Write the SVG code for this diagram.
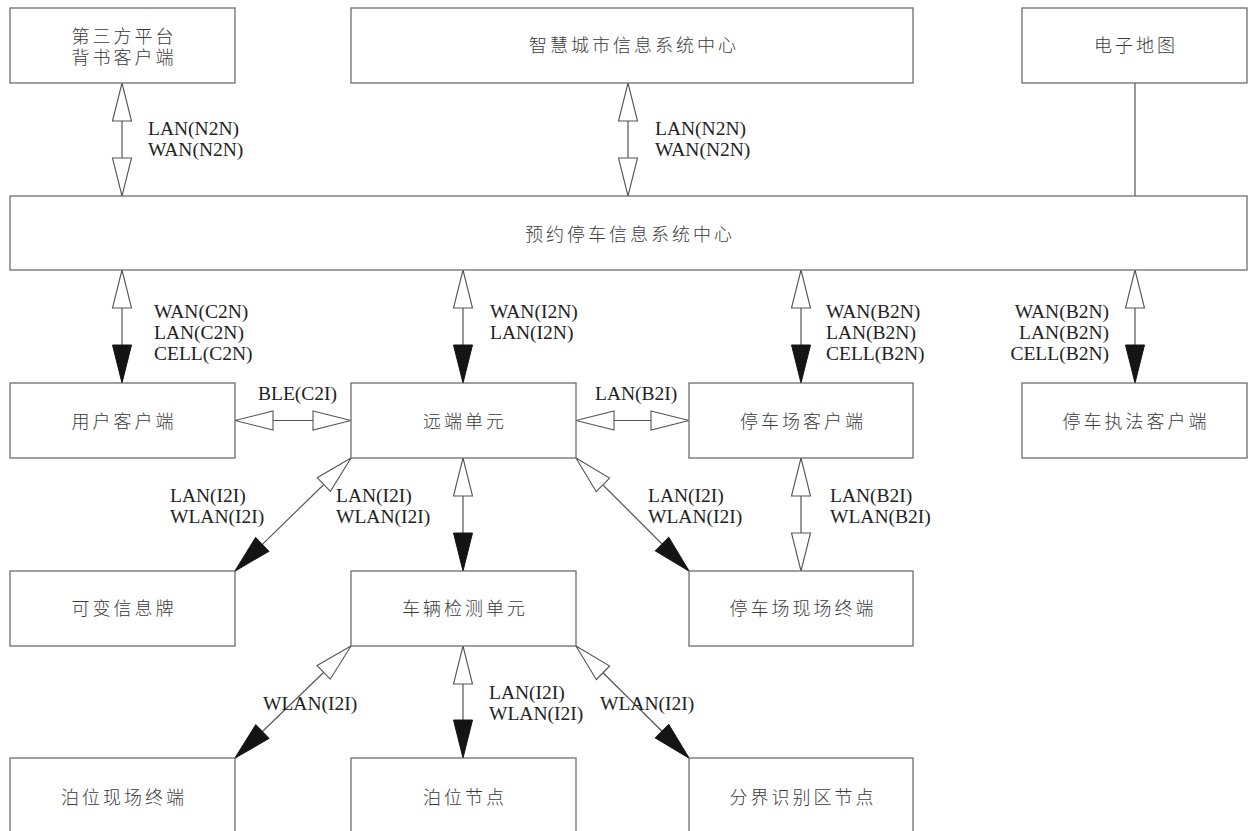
<svg xmlns="http://www.w3.org/2000/svg" width="1254" height="831" viewBox="0 0 1254 831">
<style>
.box{fill:#fff;stroke:#6e6e6e;stroke-width:1.3}
.zh{font-family:"Noto Sans CJK SC","Noto Sans",sans-serif;font-size:18px;font-weight:300;fill:#3a3a3a;letter-spacing:3px;text-anchor:middle;dominant-baseline:central}
.lb{font-family:"Liberation Serif","Times New Roman",serif;font-size:19.5px;fill:#222}
.lbe{text-anchor:end}
.ln{stroke:#555;stroke-width:1.2;fill:none}
.oo{marker-start:url(#op);marker-end:url(#op)}
.of{marker-start:url(#op);marker-end:url(#fl)}
</style>
<defs>
<marker id="op" viewBox="0 0 40 21" refX="39" refY="10.5" markerWidth="40" markerHeight="21" markerUnits="userSpaceOnUse" orient="auto-start-reverse" overflow="visible">
<path d="M1,1 L39,10.5 L1,20 Z" fill="#fff" stroke="#555" stroke-width="1.1"/>
</marker>
<marker id="fl" viewBox="0 0 40 21" refX="39" refY="10.5" markerWidth="40" markerHeight="21" markerUnits="userSpaceOnUse" orient="auto-start-reverse" overflow="visible">
<path d="M1,1 L39,10.5 L1,20 Z" fill="#141414" stroke="#141414" stroke-width="1"/>
</marker>
</defs>
<rect width="1254" height="831" fill="#fff"/>

<g id="connectors">
<line class="ln oo" x1="122" y1="83" x2="122" y2="196"/>
<line class="ln oo" x1="628" y1="83" x2="628" y2="196"/>
<line class="ln" x1="1135" y1="83" x2="1135" y2="196"/>
<line class="ln of" x1="122" y1="270" x2="122" y2="383"/>
<line class="ln of" x1="463" y1="270" x2="463" y2="383"/>
<line class="ln of" x1="801" y1="270" x2="801" y2="383"/>
<line class="ln of" x1="1135" y1="270" x2="1135" y2="383"/>
<line class="ln oo" x1="235" y1="420.5" x2="351" y2="420.5"/>
<line class="ln oo" x1="576" y1="420.5" x2="689" y2="420.5"/>
<line class="ln of" x1="351" y1="458" x2="235" y2="571"/>
<line class="ln of" x1="463" y1="458" x2="463" y2="571"/>
<line class="ln of" x1="576" y1="458" x2="689" y2="571"/>
<line class="ln oo" x1="801" y1="458" x2="801" y2="571"/>
<line class="ln of" x1="351" y1="646" x2="235" y2="758"/>
<line class="ln of" x1="463" y1="646" x2="463" y2="758"/>
<line class="ln of" x1="576" y1="646" x2="689" y2="758"/>

<text class="lb" x="148" y="135">LAN(N2N)</text>
<text class="lb" x="148" y="156">WAN(N2N)</text>
<text class="lb" x="655" y="135">LAN(N2N)</text>
<text class="lb" x="655" y="156">WAN(N2N)</text>
<text class="lb" x="154" y="318">WAN(C2N)</text>
<text class="lb" x="154" y="339">LAN(C2N)</text>
<text class="lb" x="154" y="360">CELL(C2N)</text>
<text class="lb" x="490" y="318">WAN(I2N)</text>
<text class="lb" x="490" y="339">LAN(I2N)</text>
<text class="lb" x="826" y="318">WAN(B2N)</text>
<text class="lb" x="826" y="339">LAN(B2N)</text>
<text class="lb" x="826" y="360">CELL(B2N)</text>
<text class="lb lbe" x="1109" y="318">WAN(B2N)</text>
<text class="lb lbe" x="1109" y="339">LAN(B2N)</text>
<text class="lb lbe" x="1109" y="360">CELL(B2N)</text>
<text class="lb" x="258" y="400">BLE(C2I)</text>
<text class="lb" x="595" y="400">LAN(B2I)</text>
<text class="lb" x="170" y="502">LAN(I2I)</text>
<text class="lb" x="170" y="523">WLAN(I2I)</text>
<text class="lb" x="336" y="502">LAN(I2I)</text>
<text class="lb" x="336" y="523">WLAN(I2I)</text>
<text class="lb" x="648" y="502">LAN(I2I)</text>
<text class="lb" x="648" y="523">WLAN(I2I)</text>
<text class="lb" x="830" y="502">LAN(B2I)</text>
<text class="lb" x="830" y="523">WLAN(B2I)</text>
<text class="lb" x="263" y="710">WLAN(I2I)</text>
<text class="lb" x="489" y="699">LAN(I2I)</text>
<text class="lb" x="489" y="720">WLAN(I2I)</text>
<text class="lb" x="600" y="710">WLAN(I2I)</text>
</g>

<g id="n-thirdparty"><rect class="box" x="10" y="8" width="225" height="75"/><text class="zh"><tspan x="124" y="35">第三方平台</tspan><tspan x="124" y="56">背书客户端</tspan></text></g>
<g id="n-smartcity"><rect class="box" x="351" y="8" width="562" height="75"/><text class="zh" x="634" y="44">智慧城市信息系统中心</text></g>
<g id="n-map"><rect class="box" x="1022" y="8" width="225" height="75"/><text class="zh" x="1136" y="44">电子地图</text></g>
<g id="n-center"><rect class="box" x="10" y="196" width="1237" height="74"/><text class="zh" x="630" y="233">预约停车信息系统中心</text></g>
<g id="n-user"><rect class="box" x="10" y="383" width="225" height="75"/><text class="zh" x="124" y="420">用户客户端</text></g>
<g id="n-remote"><rect class="box" x="351" y="383" width="225" height="75"/><text class="zh" x="465" y="420">远端单元</text></g>
<g id="n-lotclient"><rect class="box" x="689" y="383" width="224" height="75"/><text class="zh" x="803" y="420">停车场客户端</text></g>
<g id="n-enforce"><rect class="box" x="1022" y="383" width="225" height="75"/><text class="zh" x="1136" y="420">停车执法客户端</text></g>
<g id="n-vms"><rect class="box" x="10" y="571" width="225" height="75"/><text class="zh" x="124" y="607">可变信息牌</text></g>
<g id="n-detect"><rect class="box" x="351" y="571" width="225" height="75"/><text class="zh" x="465" y="607">车辆检测单元</text></g>
<g id="n-lotterm"><rect class="box" x="689" y="571" width="224" height="75"/><text class="zh" x="803" y="607">停车场现场终端</text></g>
<g id="n-bayterm"><rect class="box" x="10" y="758" width="225" height="80"/><text class="zh" x="124" y="796">泊位现场终端</text></g>
<g id="n-baynode"><rect class="box" x="351" y="758" width="225" height="80"/><text class="zh" x="465" y="796">泊位节点</text></g>
<g id="n-boundary"><rect class="box" x="689" y="758" width="224" height="80"/><text class="zh" x="803" y="796">分界识别区节点</text></g>
</svg>
